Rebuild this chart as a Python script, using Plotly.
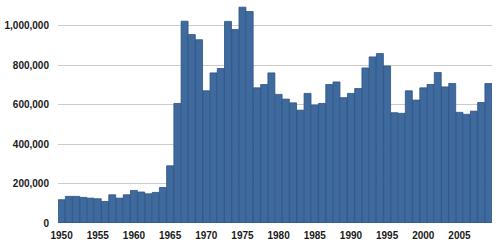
import plotly.graph_objects as go

years = list(range(1950, 2010))
values = [
    118000, 135000, 135000, 130000, 126000, 123000, 109000, 143000, 126000, 143000,
    165000, 157000, 148000, 155000, 180000, 290000, 606000, 1023000, 955000, 929000,
    670000, 761000, 783000, 1022000, 981000, 1094000, 1072000, 685000, 702000, 761000,
    652000, 628000, 609000, 572000, 657000, 598000, 606000, 702000, 715000, 635000,
    657000, 682000, 786000, 842000, 859000, 796000, 559000, 556000, 670000, 623000,
    685000, 702000, 763000, 690000, 707000, 561000, 551000, 567000, 611000, 707000,
]
x_ticks = list(range(1950, 2010, 5))
y_ticks = [0, 200000, 400000, 600000, 800000, 1000000]
y_labels = ["0", "200,000", "400,000", "600,000", "800,000", "1,000,000"]

fig = go.Figure(go.Bar(
    x=years, y=values,
    marker=dict(color="#3f6a9e", line=dict(color="#2c5283", width=0.8)),
))
fig.update_layout(
    width=500, height=246,
    margin=dict(l=58, r=8, t=5.5, b=23),
    paper_bgcolor="white", plot_bgcolor="white",
    bargap=0.04, showlegend=False,
    font=dict(family="Liberation Sans, Arial, sans-serif", size=10, color="#1a1a1a"),
)
fig.update_xaxes(
    range=[1949.5, 2009.5], tickmode="array", tickvals=x_ticks,
    ticktext=[str(t) for t in x_ticks], showgrid=False, ticks="", showline=False,
    ticklabelstandoff=5, automargin=False,
    tickfont=dict(size=10, family="Liberation Sans, Arial, sans-serif", weight="bold"),
)
fig.update_yaxes(
    range=[0, 1100000], tickmode="array", tickvals=y_ticks, ticktext=y_labels,
    showgrid=True, gridcolor="#cccccc", gridwidth=1, zeroline=False, ticks="",
    ticklabelstandoff=8, automargin=False,
    tickfont=dict(size=10, family="Liberation Sans, Arial, sans-serif", weight="bold"),
)
fig.write_html("out.html")
